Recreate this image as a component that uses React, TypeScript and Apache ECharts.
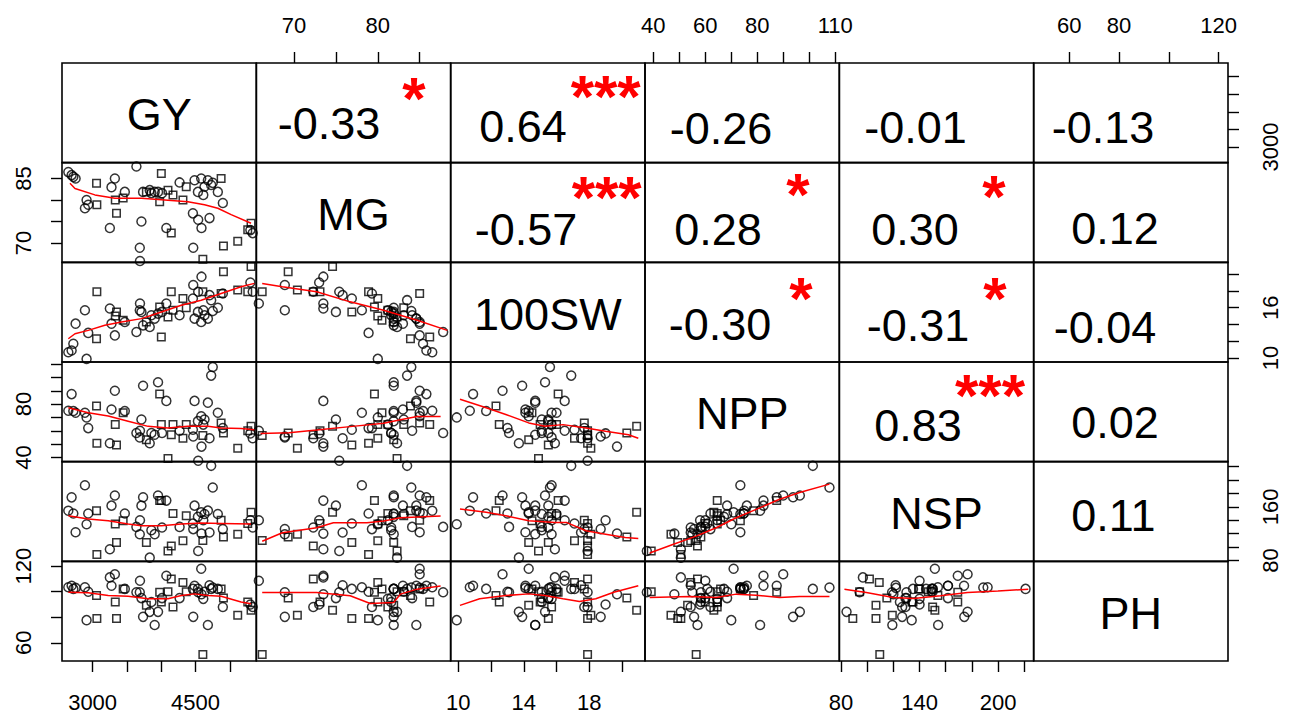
import React, { useEffect, useRef } from 'react';
import * as echarts from 'echarts';

// ---------------- DATA ----------------
const VARIABLES = ['GY', 'MG', '100SW', 'NPP', 'NSP', 'PH'];

const GY = [2646, 2694, 2719, 2752, 2888, 2912, 2936, 3057, 3062, 3251, 3275, 3324, 3330, 3348, 3445, 3469,
  3638, 3687, 3690, 3711, 3735, 3783, 3832, 3856, 3904, 3953, 3977, 4001, 4011, 4074, 4098, 4146, 4171,
  4267, 4316, 4364, 4461, 4466, 4485, 4534, 4538, 4582, 4586, 4606, 4612, 4630, 4679, 4703, 4727,
  4824, 4872, 4897, 4906, 5114, 5260, 5308, 5332, 5298, 4750];
const MG = [86.5, 85.8, 85.4, 85.0, 78.1, 80.0, 78.9, 83.9, 78.9, 73.5, 83.0, 85.0, 80.0, 76.9, 80.5, 81.9,
  87.8, 68.9, 65.8, 75.0, 81.9, 81.9, 82.3, 81.6, 81.9, 81.9, 79.6, 86.2, 81.6, 73.5, 82.3, 72.3, 81.2,
  84.1, 80.0, 83.1, 76.9, 68.9, 84.6, 81.9, 75.4, 85.0, 73.5, 66.2, 81.2, 83.1, 84.6, 75.8, 83.5,
  81.9, 85.0, 79.3, 69.3, 70.4, 73.1, 74.6, 72.3, 73.0, 84.0];
const SW100 = [10.7, 10.9, 11.7, 14.1, 15.7, 9.9, 13.0, 12.3, 17.9, 15.9, 14.1, 12.7, 15.0, 15.5, 14.5, 14.3,
  13.1, 15.7, 16.5, 15.5, 13.9, 14.3, 13.7, 15.1, 14.7, 15.3, 16.1, 12.5, 15.5, 16.5, 14.9, 17.9, 15.7,
  15.1, 17.1, 16.0, 17.1, 18.7, 14.7, 15.5, 17.9, 14.3, 19.7, 17.9, 15.7, 15.1, 14.7, 17.5, 16.9,
  16.0, 17.7, 17.7, 20.3, 18.1, 17.9, 20.9, 17.9, 19.0, 15.6];
const NPP = [75.0, 87.5, 74.8, 73.5, 73.5, 70.0, 62.0, 78.6, 50.6, 50.6, 76.0, 90.0, 64.6, 49.4, 73.5, 74.8,
  58.3, 55.0, 60.0, 68.4, 93.8, 53.2, 50.6, 58.3, 57.0, 96.4, 87.5, 64.6, 58.3, 82.4, 39.2, 57.0, 64.6,
  60.0, 54.4, 64.6, 60.8, 55.7, 82.4, 67.2, 37.5, 70.9, 48.1, 56.5, 64.6, 68.4, 81.1, 54.4, 101.4,
  73.5, 65.9, 62.0, 58.3, 46.8, 60.0, 63.3, 54.4, 58.0, 107.8];
const NSP = [154, 174, 150, 122, 192, 134, 150, 154, 89, 96.7, 161.7, 176.7, 134.2, 106.7, 139.2, 150,
  130, 119, 140, 161.7, 174.2, 106.7, 84.2, 125, 119.2, 176.7, 169.2, 169.2, 129.2, 169.2, 94.2, 101.7, 150,
  130, 109.2, 146.7, 135, 126.7, 161.7, 145, 94.2, 151.7, 120, 109.6, 140, 149.2, 154.2, 121.7, 221,
  149.2, 140, 126.7, 115, 119.2, 135, 151.7, 129.2, 140, 188.7];
const PH = [103.5, 104.7, 102.2, 103.0, 103.5, 77.7, 100.0, 97.0, 79.0, 111.2, 104.7, 113.7, 91.9, 79.0, 102.2, 102.2,
  99.6, 99.6, 108.6, 95.0, 80.3, 89.3, 84.2, 91.9, 73.9, 84.2, 99.6, 91.9, 95.0, 112.5, 100.0, 109.9, 88.0,
  95.0, 107.3, 100.0, 102.2, 80.3, 104.7, 102.2, 99.6, 118.0, 98.0, 50.7, 94.4, 100.0, 73.9, 105.0, 102.2,
  102.2, 102.2, 88.0, 95.0, 81.6, 91.9, 85.4, 88.0, 90.0, 103.2];
// o = circle, s = square
const MARKER = 'oooooooss' + 'ooosssoo' + 'ooooso' + 'ooo' + 'ssoossso' + 'sso' + 'oooooosoooooos' + 'osss' + 'soooo' + 'o';

const SERIES_VALUES = [GY, MG, SW100, NPP, NSP, PH];

// Correlation panels (upper triangle)
const CORRELATIONS = [
  { row: 0, col: 1, r: '-0.33', stars: '*' },
  { row: 0, col: 2, r: '0.64', stars: '***' },
  { row: 0, col: 3, r: '-0.26', stars: '' },
  { row: 0, col: 4, r: '-0.01', stars: '' },
  { row: 0, col: 5, r: '-0.13', stars: '' },
  { row: 1, col: 2, r: '-0.57', stars: '***' },
  { row: 1, col: 3, r: '0.28', stars: '*' },
  { row: 1, col: 4, r: '0.30', stars: '*' },
  { row: 1, col: 5, r: '0.12', stars: '' },
  { row: 2, col: 3, r: '-0.30', stars: '*' },
  { row: 2, col: 4, r: '-0.31', stars: '*' },
  { row: 2, col: 5, r: '-0.04', stars: '' },
  { row: 3, col: 4, r: '0.83', stars: '***' },
  { row: 3, col: 5, r: '0.02', stars: '' },
  { row: 4, col: 5, r: '0.11', stars: '' },
];

// Smoothed (red) lines in lower panels, key = "row-col"
const SMOOTH_GY_MG = [[2670, 83.9], [2743, 82.7], [3033, 81.2], [3324, 80.4], [3711, 80.4], [4050, 80.0], [4388, 79.6], [4630, 78.9], [4824, 78.1], [5018, 76.6], [5308, 74.6]];
const SMOOTH_GY_SW = [[2646, 12.3], [2743, 12.9], [2936, 13.3], [3178, 13.9], [3420, 14.3], [3711, 14.7], [4001, 15.5], [4292, 16.3], [4582, 16.9], [4872, 17.7], [5163, 18.5], [5356, 18.9]];
const SMOOTH_GY_NPP = [[2646, 77.3], [2936, 73.5], [3227, 71.0], [3517, 67.2], [3808, 63.3], [4098, 62.1], [4388, 63.3], [4679, 63.3], [4872, 62.1], [5163, 61.6], [5356, 60.8]];
const SMOOTH_GY_NSP = [[2646, 146.7], [2936, 141.7], [3227, 139.2], [3517, 134.2], [3711, 131.7], [4001, 131.7], [4292, 134.2], [4582, 135.7], [4872, 135.2], [5308, 134.2]];
const SMOOTH_GY_PH = [[2646, 99.6], [2936, 99.1], [3227, 97.0], [3517, 96.5], [3808, 94.4], [4098, 94.4], [4292, 97.0], [4485, 98.3], [4679, 97.0], [4872, 96.5], [5163, 91.9], [5308, 90.6]];
const SMOOTH_MG_SW = [[66.2, 18.9], [68.6, 18.5], [72.7, 17.9], [76.7, 16.7], [80.7, 15.7], [84.7, 14.5], [88.3, 13.3]];
const SMOOTH_MG_NPP = [[66.0, 58.0], [69.4, 58.5], [72.7, 60.5], [76.7, 63.1], [80.7, 65.7], [82.7, 68.2], [84.7, 70.7], [87.5, 70.7]];
const SMOOTH_MG_NSP = [[66.2, 108.7], [68.6, 121.2], [72.7, 128.7], [74.7, 136.2], [78.7, 136.2], [80.7, 138.7], [82.7, 143.7], [87.5, 146.2]];
const SMOOTH_MG_PH = [[66.2, 99.3], [72.7, 99.3], [76.7, 96.8], [79.1, 90.8], [81.9, 91.6], [82.7, 98.1], [84.7, 102.0], [87.5, 104.5]];
const SMOOTH_SW_NPP = [[10.1, 83.6], [11.7, 77.3], [12.9, 72.2], [14.3, 65.9], [15.3, 63.4], [16.4, 64.6], [17.8, 62.1], [19.0, 59.6], [20.4, 57.0], [21.0, 54.4]];
const SMOOTH_SW_NSP = [[10.1, 156.7], [11.7, 151.7], [12.9, 146.7], [14.3, 139.2], [15.9, 136.7], [16.6, 136.7], [17.8, 124.2], [19.0, 119.2], [20.2, 114.2], [21.0, 112.7]];
const SMOOTH_SW_PH = [[10.1, 89.3], [11.3, 94.5], [12.9, 97.0], [14.3, 98.3], [15.3, 97.0], [16.4, 94.5], [17.4, 92.4], [18.4, 94.5], [19.5, 99.6], [21.0, 104.7]];
const SMOOTH_NPP_NSP = [[38.6, 91.2], [47.5, 103.7], [56.5, 116.2], [64.2, 128.7], [71.9, 143.7], [79.6, 156.2], [88.6, 171.2], [96.3, 181.2], [107.8, 193.7]];
const SMOOTH_NPP_PH = [[38.6, 95.5], [54.0, 96.2], [64.2, 95.5], [71.9, 98.1], [79.6, 97.3], [88.6, 95.5], [96.3, 96.2], [107.8, 96.2]];
const SMOOTH_NSP_PH = [[82.6, 102.0], [99.3, 99.3], [119.9, 95.5], [135.4, 94.7], [156.0, 96.8], [176.7, 99.3], [199.9, 100.6], [223.1, 102.0]];

const SMOOTH: Record<string, number[][]> = {
  '1-0': SMOOTH_GY_MG, '2-0': SMOOTH_GY_SW, '3-0': SMOOTH_GY_NPP, '4-0': SMOOTH_GY_NSP, '5-0': SMOOTH_GY_PH,
  '2-1': SMOOTH_MG_SW, '3-1': SMOOTH_MG_NPP, '4-1': SMOOTH_MG_NSP, '5-1': SMOOTH_MG_PH,
  '3-2': SMOOTH_SW_NPP, '4-2': SMOOTH_SW_NSP, '5-2': SMOOTH_SW_PH,
  '4-3': SMOOTH_NPP_NSP, '5-3': SMOOTH_NPP_PH,
  '5-4': SMOOTH_NSP_PH,
};

// Axis scales and ticks
const AXIS_MIN = [2554, 65.5, 9.53, 36.8, 78.7, 45.7];
const AXIS_MAX = [5385, 88.7, 21.41, 111.6, 227.2, 123.8];
const TICKS = [
  [3000, 3500, 4000, 4500, 5000],
  [70, 75, 80, 85],
  [10, 12, 14, 16, 18, 20],
  [40, 50, 60, 70, 80, 90, 100, 110],
  [80, 100, 120, 140, 160, 180, 200, 220],
  [60, 80, 100, 120],
];
const LABELS_BOTTOM: Record<number, number[]> = { 0: [3000, 4500], 2: [10, 14, 18], 4: [80, 140, 200] };
const LABELS_TOP: Record<number, number[]> = { 1: [70, 80], 3: [40, 60, 80, 110], 5: [60, 80, 120] };
const LABELS_LEFT: Record<number, number[]> = { 1: [70, 85], 3: [40, 80], 5: [60, 120] };
const LABELS_RIGHT: Record<number, number[]> = { 0: [3000], 2: [10, 16], 4: [80, 160] };

// ---------------- LAYOUT ----------------
const LEFT = 62;
const TOP = 63;
const CW = (1228 - 62) / 6;
const CH = (661 - 63) / 6;
const FONT = '"Liberation Sans", Arial, Helvetica, sans-serif';
const TICK_FONT = 22;
// text offsets (relative to panel top-left): number centre, star centre
const CORR_POS: Record<string, number[]> = {
  '0-1': [72.7, 60.5, 157.7, 25.5], '0-2': [72.3, 63, 155, 23], '0-3': [76, 65], '0-4': [76.2, 64.5], '0-5': [69.3, 64.5],
  '1-2': [75.3, 67.3, 156, 25.3], '1-3': [73, 67.3, 153, 22.3], '1-4': [75.7, 67.3, 154.7, 24.3], '1-5': [81.3, 66.3],
  '2-3': [75, 61.7, 156, 25.7], '2-4': [78.7, 62.7, 155.7, 25.7], '2-5': [71.3, 64.7],
  '3-4': [78.7, 63, 150.7, 23], '3-5': [81.3, 60],
  '4-5': [79.8, 54.3],
};

const plain = (v: number) => String(v);

function buildOption() {
  const grid: any[] = [];
  const xAxis: any[] = [];
  const yAxis: any[] = [];
  const series: any[] = [];
  const graphic: any[] = [];

  for (let r = 0; r < 6; r++) {
    for (let c = 0; c < 6; c++) {
      const g = r * 6 + c;
      grid.push({
        left: LEFT + c * CW, top: TOP + r * CH, width: CW, height: CH,
        show: true, borderColor: '#000', borderWidth: 1.6, backgroundColor: 'transparent',
      });
      const topLab = r === 0 ? LABELS_TOP[c] : undefined;
      const botLab = r === 5 ? LABELS_BOTTOM[c] : undefined;
      const xLab = topLab || botLab;
      xAxis.push({
        type: 'value', gridIndex: g, min: AXIS_MIN[c], max: AXIS_MAX[c],
        position: topLab ? 'top' : 'bottom',
        axisLine: { show: false }, splitLine: { show: false },
        axisTick: { show: !!xLab, customValues: TICKS[c], length: 11, inside: false, lineStyle: { color: '#000', width: 1.4 } },
        axisLabel: { show: !!xLab, customValues: xLab || [], formatter: plain, margin: topLab ? 27 : 30, fontSize: TICK_FONT, color: '#000', fontFamily: FONT },
      });
      const leftLab = c === 0 ? LABELS_LEFT[r] : undefined;
      const rightLab = c === 5 ? LABELS_RIGHT[r] : undefined;
      const yLab = leftLab || rightLab;
      yAxis.push({
        type: 'value', gridIndex: g, min: AXIS_MIN[r], max: AXIS_MAX[r],
        position: rightLab ? 'right' : 'left',
        axisLine: { show: false }, splitLine: { show: false },
        axisTick: { show: !!yLab, customValues: TICKS[r], length: 11, inside: false, lineStyle: { color: '#000', width: 1.4 } },
        axisLabel: { show: !!yLab, customValues: yLab || [], formatter: plain, rotate: 90, margin: rightLab ? 31 : 28, fontSize: TICK_FONT, color: '#000', fontFamily: FONT },
      });

      if (r > c) {
        const xs = SERIES_VALUES[c];
        const ys = SERIES_VALUES[r];
        const data = xs.map((x, i) => {
          const sq = MARKER[i] === 's';
          return { value: [x, ys[i]], symbol: sq ? 'rect' : 'circle', symbolSize: sq ? 7.5 : 9 };
        });
        series.push({
          type: 'scatter', xAxisIndex: g, yAxisIndex: g, data, clip: false, silent: true,
          itemStyle: { color: 'rgba(0,0,0,0)', borderColor: '#000', borderWidth: 1.5 },
        });
        series.push({
          type: 'line', xAxisIndex: g, yAxisIndex: g, data: SMOOTH[`${r}-${c}`], symbol: 'none', showSymbol: false,
          silent: true, clip: false, z: 3, lineStyle: { color: '#ff0000', width: 1.5 },
        });
      } else if (r === c) {
        graphic.push({
          type: 'text', x: LEFT + (c + 0.5) * CW, y: TOP + (r + 0.5) * CH + 2, silent: true,
          style: { text: VARIABLES[r], font: `45px ${FONT}`, fill: '#000', textAlign: 'center', textVerticalAlign: 'middle' },
        });
      }
    }
  }

  CORRELATIONS.forEach((item) => {
    const key = `${item.row}-${item.col}`;
    const p = CORR_POS[key];
    const x0 = LEFT + item.col * CW;
    const y0 = TOP + item.row * CH;
    graphic.push({
      type: 'text', x: x0 + p[0], y: y0 + p[1], silent: true,
      style: { text: item.r, font: `45px ${FONT}`, fill: '#000', textAlign: 'center', textVerticalAlign: 'middle' },
    });
    if (item.stars) {
      graphic.push({
        type: 'text', x: x0 + p[2], y: y0 + p[3] + 10, silent: true,
        style: { text: item.stars, font: `bold 60px ${FONT}`, fill: '#ff0000', textAlign: 'center', textVerticalAlign: 'middle' },
      });
    }
  });

  return { animation: false, backgroundColor: '#fff', grid, xAxis, yAxis, series, graphic };
}

export default function App() {
  const ref = useRef<HTMLDivElement>(null);
  useEffect(() => {
    document.body.style.margin = '0';
    if (!ref.current) return;
    const chart = echarts.init(ref.current, undefined, { renderer: 'svg' });
    chart.setOption(buildOption() as any);
    return () => chart.dispose();
  }, []);
  return <div ref={ref} style={{ position: 'absolute', left: 0, top: 0, width: 1289, height: 718, background: '#fff' }} />;
}
